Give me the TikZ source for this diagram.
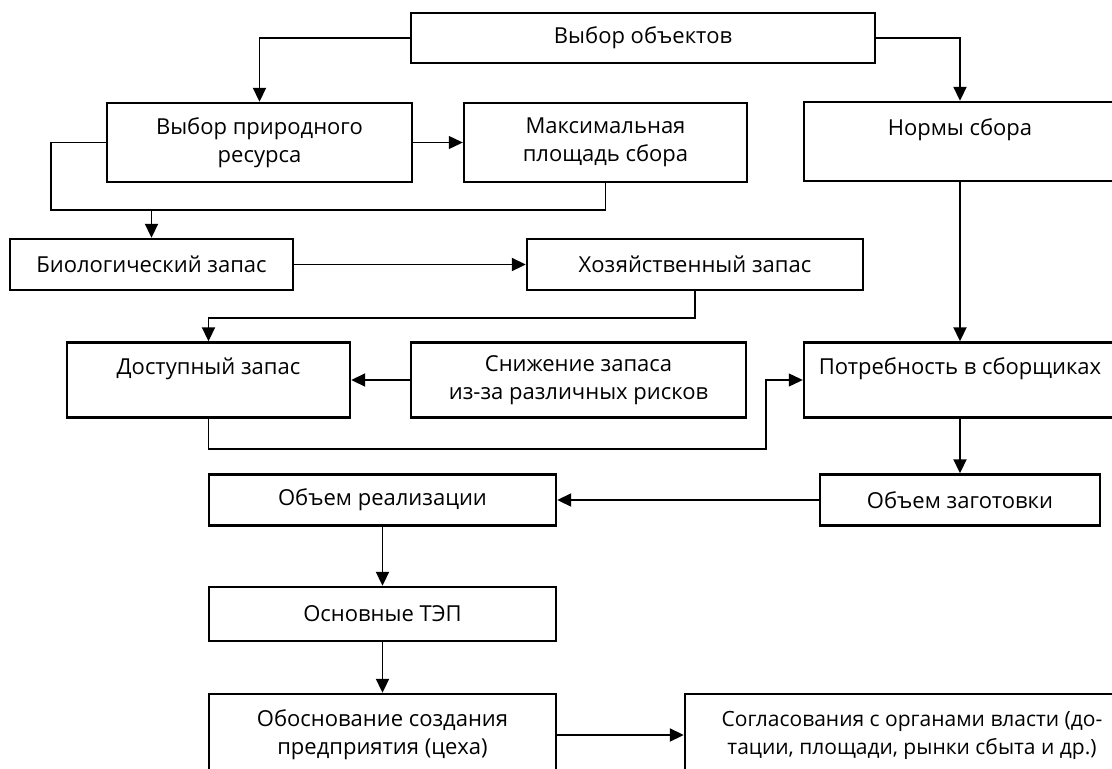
\documentclass[tikz,border=0pt]{standalone}
\usepackage{fontspec}
\setmainfont{Open Sans}
\usetikzlibrary{arrows.meta}

\begin{document}
\begin{tikzpicture}[x=1pt, y=-1pt,
	box/.style={draw, line width=2.4pt, align=center, inner sep=0pt, font=\fontsize{22}{28}\selectfont},
	arr/.style={line width=1.9pt, -{Triangle[length=14pt, width=13pt]}},
	link/.style={line width=1.9pt},
	thinarr/.style={arr, line width=1.1pt}]

	\useasboundingbox (0,0) rectangle (1112,769);
	\clip (0,0) rectangle (1112,769);

	\node[box, minimum width=464pt, minimum height=50pt] (obj) at (643,38) {Выбор объектов};
	\node[box, minimum width=305pt, minimum height=79pt] (res) at (259.5,142.5) {Выбор природного\\ресурса};
	\node[box, minimum width=283pt, minimum height=79pt] (area) at (605.5,142.5) {Максимальная\\площадь сбора};
	\node[box, minimum width=312pt, minimum height=79pt] (norm) at (960,141.5) {Нормы сбора\\~};

	\node[box, minimum width=283pt, minimum height=51pt] (bio) at (151.5,264.5) {Биологический запас};
	\node[box, minimum width=336pt, minimum height=51pt] (econ) at (695,264.5) {Хозяйственный запас};

	\node[box, minimum width=283pt, minimum height=75pt] (avail) at (208.5,380) {Доступный запас\\~};
	\node[box, minimum width=335pt, minimum height=75pt] (risk) at (578.5,380) {Снижение запаса\\из-за различных рисков};
	\node[box, minimum width=312pt, minimum height=75pt] (need) at (960,380) {Потребность в сборщиках\\~};

	\node[box, minimum width=347pt, minimum height=51pt] (real) at (382.5,500) {Объем реализации};
	\node[box, minimum width=280pt, minimum height=51pt] (harv) at (960,500) {Объем заготовки};
	\node[box, minimum width=347pt, minimum height=54pt] (tep) at (382.5,614) {Основные ТЭП};
	\node[box, minimum width=347pt, minimum height=82pt] (just) at (382.5,735) {Обоснование создания\\предприятия (цеха)};
	\node[box, minimum width=454pt, minimum height=82pt, font=\fontsize{21}{28}\selectfont] (agree) at (912,735) {Согласования с органами власти (до-\\тации, площади, рынки сбыта и др.)};

	\coordinate (bioin) at (151.5,210);
	\coordinate (bend) at (766,449);

	\draw[arr] (obj.west) -| (res.north);
	\draw[arr] (obj.east) -| (norm.north);
	\draw[thinarr] (res.east) -- (area.west);
	\draw[link] (res.west) -- ++(-55,0) |- (bioin) -| (area.south);
	\draw[arr] (bioin) -- (bio.north);
	\draw[arr] (bio.east) -- (econ.west);
	\draw[arr] (econ.south) -- ++(0,27) -| (avail.north);
	\draw[arr] (risk.west) -- (avail.east);
	\draw[arr] (norm.south) -- (need.north);
	\draw[thinarr] (avail.south) |- (bend) |- (need.west);
	\draw[arr] (need.south) -- (harv.north);
	\draw[arr] (harv.west) -- (real.east);
	\draw[arr] (real.south) -- (tep.north);
	\draw[arr] (tep.south) -- (just.north);
	\draw[arr] (just.east) -- (agree.west);

\end{tikzpicture}
\end{document}
